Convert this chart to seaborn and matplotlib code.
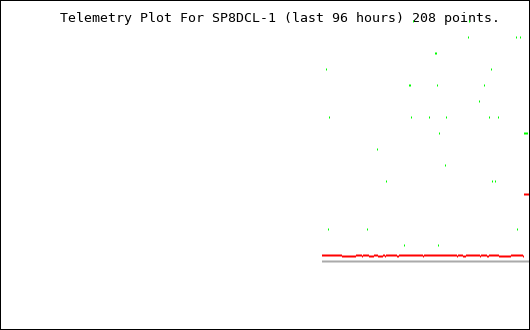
import numpy as np
import pandas as pd
import matplotlib
matplotlib.use("Agg")
import matplotlib.pyplot as plt
import seaborn as sns
from matplotlib.patches import Rectangle

# ---------------- data ----------------
title = "Telemetry Plot For SP8DCL-1 (last 96 hours) 208 points."
n_points = 208

# red channel as runs of (level, number of samples)
red_levels = [0.375, 0.3125, 0.375, 0.3125, 0.375, 0.3125, 0.375, 0.3125, 0.375,
              0.3125, 0.375, 0.3125, 0.375, 0.3125, 0.375, 0.3125, 0.375, 0.3125,
              0.375, 0.3125, 0.375, 0.3125, 0.375, 0.3125, 0.375, 0.3125, 4.1875]
red_counts = [20, 14, 6, 1, 6, 5, 4, 5, 2, 1, 11, 2, 24, 1, 33, 1, 5, 3, 14, 1,
              6, 2, 10, 12, 12, 1, 6]

# gray channel: constant zero for all samples
gray_level = 0.0

# green channel: visible samples (sample index, level)
green_index = [91, 147, 146, 194, 198, 113, 114, 4, 169, 87, 88, 115, 162, 157,
               7, 89, 107, 124, 167, 176, 207, 117, 202, 203, 204, 205, 55, 123,
               64, 170, 173, 6, 45, 195, 82, 116]
green_level = [15, 15, 14, 14, 14, 13, 13, 12, 12, 11, 11, 11, 11, 10,
               9, 9, 9, 9, 9, 9, 9, 8, 8, 8, 8, 8, 7, 6,
               5, 5, 5, 2, 2, 2, 1, 1]

# ---------------- build frames ----------------
idx = np.arange(n_points)
red_df = pd.DataFrame({"sample": idx, "value": np.repeat(red_levels, red_counts)})
gray_df = pd.DataFrame({"sample": idx, "value": np.full(n_points, gray_level)})
green_df = pd.DataFrame({"sample": green_index, "value": green_level})

# ---------------- figure ----------------
W, H, DPI = 530, 330, 100
fig = plt.figure(figsize=(W / DPI, H / DPI), dpi=DPI, facecolor="white")
ax = fig.add_axes([0, 0, 1, 1])
ax.set_facecolor("white")

px = 72.0 / DPI  # one pixel in points
mk = dict(marker="|", s=(2 * px) ** 2, linewidth=px, legend=False, ax=ax,
          antialiased=False)

sns.scatterplot(data=gray_df, x="sample", y="value", color="#aaaaaa", zorder=2, **mk)
sns.scatterplot(data=red_df, x="sample", y="value", color="#ff0000", zorder=3, **mk)
sns.scatterplot(data=green_df, x="sample", y="value", color="#00ff00", zorder=4, **mk)

# 1 sample per pixel; 16 px per level
ax.set_xlim(-321.5, 208.5)
ax.set_ylim((261 - H) / 16.0, 261 / 16.0)
ax.axis("off")

ax.text(60 / W, 1 - 22 / H, title, transform=fig.transFigure, ha="left",
        va="baseline", fontsize=9.55, family=["DejaVu Sans Mono"], color="black",
        zorder=1)

# 1 px black frame around the whole image (half of a 2 px line is clipped)
fig.patches.append(Rectangle((0, 0), 1, 1, transform=fig.transFigure, fill=False,
                             edgecolor="black", linewidth=2 * px,
                             antialiased=False, zorder=10))

fig.savefig("out.png", dpi=DPI, facecolor="white")
